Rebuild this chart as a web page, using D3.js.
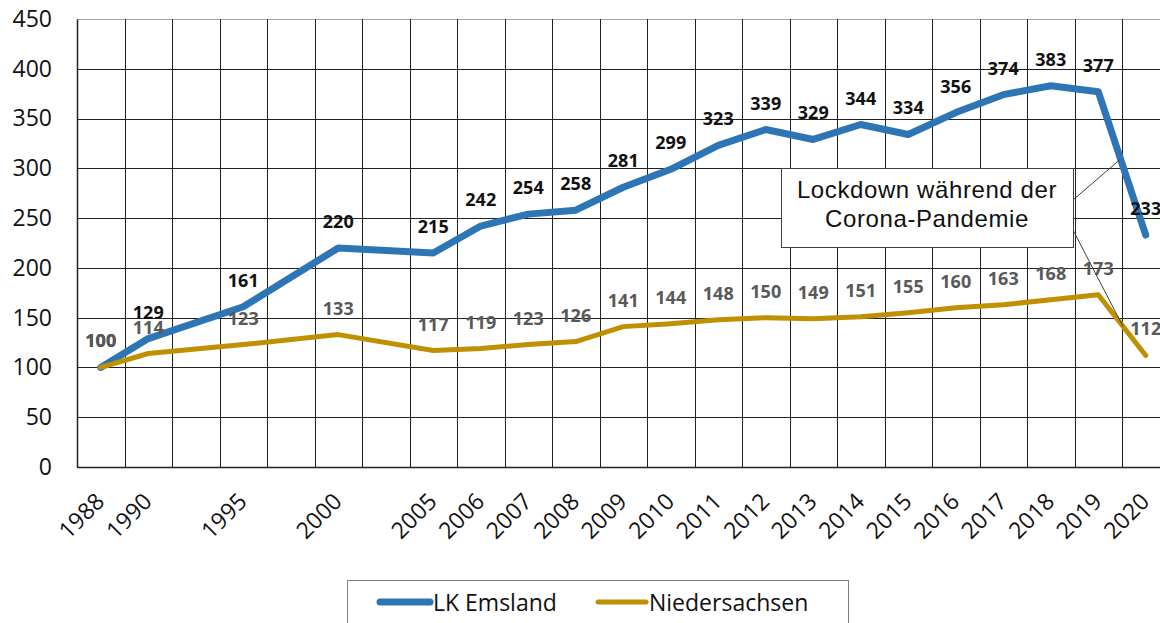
<!DOCTYPE html>
<html>
<head>
<meta charset="utf-8">
<script src="https://cdn.jsdelivr.net/npm/d3@7"></script>
<style>
  body { margin: 0; background: #fff; }
  svg { display: block; font-family: "Open Sans", "Liberation Sans", sans-serif; }
</style>
</head>
<body>
<svg id="chart" width="1160" height="623"></svg>
<script>
// Daten: Index 1988 = 100
var years = ["1988", "1990", "1995", "2000", "2005", "2006", "2007", "2008", "2009", "2010",
             "2011", "2012", "2013", "2014", "2015", "2016", "2017", "2018", "2019", "2020"];
// Kategorien der Achse, inkl. leerer Lücken wie im Original
var slots = ["1988", "1990", "gap1", "1995", "gap2", "2000", "gap3", "2005", "2006", "2007", "2008",
             "2009", "2010", "2011", "2012", "2013", "2014", "2015", "2016", "2017", "2018", "2019", "2020"];
var emsland = [100, 129, 161, 220, 215, 242, 254, 258, 281, 299, 323, 339, 329, 344, 334, 356, 374, 383, 377, 233];
var niedersachsen = [100, 114, 123, 133, 117, 119, 123, 126, 141, 144, 148, 150, 149, 151, 155, 160, 163, 168, 173, 112];
var yTicks = [0, 50, 100, 150, 200, 250, 300, 350, 400, 450];
var seriesNames = ["LK Emsland", "Niedersachsen"];
var noteLines = ["Lockdown während der", "Corona-Pandemie"];

var BLUE = "#2e75b6";
var GOLD = "#bf9000";

var svg = d3.select("#chart");
var plotLeft = 77, plotTop = 19, plotBottom = 467;
var slotW = 47.5;

var x = d3.scaleBand().domain(slots).range([plotLeft, plotLeft + slotW * slots.length]).padding(0);
var y = d3.scaleLinear().domain([0, 450]).range([plotBottom, plotTop]);
var cx = function(k) { return x(k) + x.bandwidth() / 2; };

// Gitter
var grid = svg.append("g").attr("shape-rendering", "crispEdges");
grid.selectAll(".hg").data(yTicks).enter().append("line")
    .attr("x1", plotLeft).attr("x2", x.range()[1])
    .attr("y1", function(d) { return Math.round(y(d)) + 0.5; })
    .attr("y2", function(d) { return Math.round(y(d)) + 0.5; })
    .attr("stroke", function(d) { return d == 450 ? "#a6a6a6" : "#222"; })
    .attr("stroke-width", 1);
grid.selectAll(".vg").data(slots.slice(1)).enter().append("line")
    .attr("x1", function(d) { return Math.round(x(d)) + 0.5; })
    .attr("x2", function(d) { return Math.round(x(d)) + 0.5; })
    .attr("y1", plotTop).attr("y2", plotBottom)
    .attr("stroke", "#222").attr("stroke-width", 1);

// Achsen
var yAxis = svg.append("g").attr("transform", "translate(" + plotLeft + ",0)")
    .call(d3.axisLeft(y).tickValues(yTicks).tickSize(0).tickPadding(25));
yAxis.select(".domain").attr("stroke", "#222").attr("stroke-width", 1.5);
yAxis.selectAll("text").attr("font-size", 23).attr("fill", "#111")
    .attr("font-family", "Open Sans");

var xAxis = svg.append("g").attr("transform", "translate(0," + plotBottom + ")")
    .call(d3.axisBottom(x).tickSize(0).tickFormat(function(d) { return d.indexOf("gap") == 0 ? "" : d; }));
xAxis.select(".domain").attr("stroke", "#222").attr("stroke-width", 1.5);
xAxis.selectAll("text")
    .attr("x", 0).attr("y", 0).attr("dy", 0)
    .attr("transform", "translate(5,36) rotate(-45)")
    .style("text-anchor", "end")
    .attr("font-size", 23).attr("fill", "#111")
    .attr("font-family", "Open Sans");

// Linien
var line = d3.line()
    .x(function(d, i) { return cx(years[i]); })
    .y(function(d) { return y(d); });

svg.append("path").datum(emsland)
    .attr("d", line).attr("fill", "none")
    .attr("stroke", BLUE).attr("stroke-width", 7)
    .attr("stroke-linejoin", "round").attr("stroke-linecap", "round");
svg.append("path").datum(niedersachsen)
    .attr("d", line).attr("fill", "none")
    .attr("stroke", GOLD).attr("stroke-width", 5)
    .attr("stroke-linejoin", "round").attr("stroke-linecap", "round");

// Datenbeschriftungen
function labels(data, color) {
    svg.append("g").selectAll("text").data(data).enter().append("text")
        .attr("x", function(d, i) { return cx(years[i]); })
        .attr("y", function(d) { return y(d) - 20; })
        .attr("text-anchor", "middle")
        .attr("font-size", 18).attr("font-weight", "bold")
        .attr("fill", color)
        .text(function(d) { return d; });
}
labels(emsland, "#111");
labels(niedersachsen, "#595959");

// Anmerkung mit Hinweislinien
var last = years.length - 1;
function onSeg(data, t) {
    var x0 = cx(years[last - 1]), x1 = cx(years[last]);
    var y0 = y(data[last - 1]), y1 = y(data[last]);
    return [x0 + (x1 - x0) * t, y0 + (y1 - y0) * t];
}
var note = { x: 781, y: 168, w: 292, h: 79 };
var pB = onSeg(emsland, 0.47), pG = onSeg(niedersachsen, 0.52);
svg.append("line").attr("x1", note.x + note.w).attr("y1", 200)
    .attr("x2", pB[0]).attr("y2", pB[1]).attr("stroke", "#404040").attr("stroke-width", 1);
svg.append("line").attr("x1", note.x + note.w).attr("y1", 230)
    .attr("x2", pG[0]).attr("y2", pG[1]).attr("stroke", "#404040").attr("stroke-width", 1);
svg.append("rect").attr("x", note.x + 0.5).attr("y", note.y + 0.5)
    .attr("width", note.w).attr("height", note.h)
    .attr("fill", "#fff").attr("stroke", "#404040").attr("stroke-width", 1);
svg.append("g").selectAll("text").data(noteLines).enter().append("text")
    .attr("x", note.x + note.w / 2)
    .attr("y", function(d, i) { return 198 + i * 29; })
    .attr("text-anchor", "middle")
    .attr("font-family", "Liberation Sans").attr("font-size", 24)
    .attr("letter-spacing", 0.6)
    .attr("fill", "#111")
    .text(function(d) { return d; });

// Legende
var lg = svg.append("g");
lg.append("rect").attr("x", 347.5).attr("y", 580.5).attr("width", 501).attr("height", 50)
    .attr("fill", "#fff").attr("stroke", "#7f7f7f").attr("stroke-width", 1);
var legendItems = [
    { name: seriesNames[0], color: BLUE, w: 7, x0: 380, x1: 430, tx: 433 },
    { name: seriesNames[1], color: GOLD, w: 5, x0: 598, x1: 646, tx: 649 }
];
legendItems.forEach(function(it) {
    lg.append("line").attr("x1", it.x0).attr("x2", it.x1).attr("y1", 602).attr("y2", 602)
        .attr("stroke", it.color).attr("stroke-width", it.w).attr("stroke-linecap", "round");
    lg.append("text").attr("x", it.tx).attr("y", 611)
        .attr("font-size", 23).attr("fill", "#111")
        .text(it.name);
});
</script>
</body>
</html>
